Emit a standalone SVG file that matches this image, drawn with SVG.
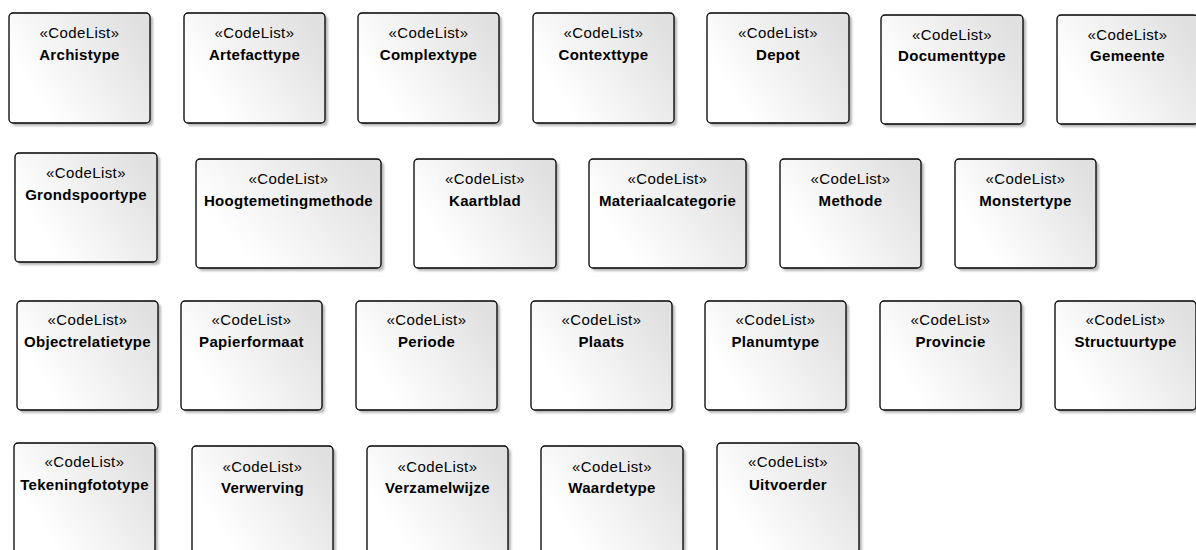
<svg xmlns="http://www.w3.org/2000/svg" width="1196" height="550" viewBox="0 0 1196 550">
<defs>
  <linearGradient id="fillGrad" x1="0" y1="0.75" x2="1" y2="0.25">
    <stop offset="0.15" stop-color="#ffffff"/>
    <stop offset="1" stop-color="#e0e0e0"/>
  </linearGradient>
  <filter id="blur" x="-10%" y="-10%" width="120%" height="120%">
    <feGaussianBlur stdDeviation="1.2"/>
  </filter>
</defs>
<style>
  .shadow { fill: #b8b8b8; filter: url(#blur); }
  .box { fill: url(#fillGrad); stroke: #000000; stroke-width: 1.3; }
  .st { font-family: "Liberation Sans", Arial, sans-serif; font-size: 15px; letter-spacing: 0.4px; text-anchor: middle; fill: #000000; }
  .nm { font-family: "Liberation Sans", Arial, sans-serif; font-size: 15px; font-weight: bold; letter-spacing: 0.3px; text-anchor: middle; fill: #000000; }
</style>
<rect x="0" y="0" width="1196" height="550" fill="#ffffff"/>
<g id="connectors"></g>

<!-- Row 1 -->
<g id="Archistype"><rect class="shadow" x="12" y="16" width="141" height="110" rx="4"/><rect class="box" x="9" y="13" width="141" height="110" rx="4"/><text class="st" x="79.5" y="38">«CodeList»</text><text class="nm" x="79.5" y="59.5">Archistype</text></g>
<g id="Artefacttype"><rect class="shadow" x="187" y="16" width="141" height="110" rx="4"/><rect class="box" x="184" y="13" width="141" height="110" rx="4"/><text class="st" x="254.5" y="38">«CodeList»</text><text class="nm" x="254.5" y="59.5">Artefacttype</text></g>
<g id="Complextype"><rect class="shadow" x="361" y="16" width="141" height="110" rx="4"/><rect class="box" x="358" y="13" width="141" height="110" rx="4"/><text class="st" x="428.5" y="38">«CodeList»</text><text class="nm" x="428.5" y="59.5">Complextype</text></g>
<g id="Contexttype"><rect class="shadow" x="536" y="16" width="141" height="110" rx="4"/><rect class="box" x="533" y="13" width="141" height="110" rx="4"/><text class="st" x="603.5" y="38">«CodeList»</text><text class="nm" x="603.5" y="59.5">Contexttype</text></g>
<g id="Depot"><rect class="shadow" x="710" y="16" width="142" height="110" rx="4"/><rect class="box" x="707" y="13" width="142" height="110" rx="4"/><text class="st" x="778" y="38">«CodeList»</text><text class="nm" x="778" y="59.5">Depot</text></g>
<g id="Documenttype"><rect class="shadow" x="884" y="18" width="142" height="109" rx="4"/><rect class="box" x="881" y="15" width="142" height="109" rx="4"/><text class="st" x="952" y="40">«CodeList»</text><text class="nm" x="952" y="61">Documenttype</text></g>
<g id="Gemeente"><rect class="shadow" x="1060" y="18" width="141" height="109" rx="4"/><rect class="box" x="1057" y="15" width="141" height="109" rx="4"/><text class="st" x="1127.5" y="40">«CodeList»</text><text class="nm" x="1127.5" y="61">Gemeente</text></g>

<!-- Row 2 -->
<g id="Grondspoortype"><rect class="shadow" x="18" y="156" width="142" height="109" rx="4"/><rect class="box" x="15" y="153" width="142" height="109" rx="4"/><text class="st" x="86" y="178">«CodeList»</text><text class="nm" x="86" y="199.5">Grondspoortype</text></g>
<g id="Hoogtemetingmethode"><rect class="shadow" x="199" y="162" width="185" height="109" rx="4"/><rect class="box" x="196" y="159" width="185" height="109" rx="4"/><text class="st" x="288.5" y="184">«CodeList»</text><text class="nm" x="288.5" y="205.5">Hoogtemetingmethode</text></g>
<g id="Kaartblad"><rect class="shadow" x="417" y="162" width="142" height="109" rx="4"/><rect class="box" x="414" y="159" width="142" height="109" rx="4"/><text class="st" x="485" y="184">«CodeList»</text><text class="nm" x="485" y="205.5">Kaartblad</text></g>
<g id="Materiaalcategorie"><rect class="shadow" x="592" y="162" width="157" height="109" rx="4"/><rect class="box" x="589" y="159" width="157" height="109" rx="4"/><text class="st" x="667.5" y="184">«CodeList»</text><text class="nm" x="667.5" y="205.5">Materiaalcategorie</text></g>
<g id="Methode"><rect class="shadow" x="783" y="162" width="141" height="109" rx="4"/><rect class="box" x="780" y="159" width="141" height="109" rx="4"/><text class="st" x="850.5" y="184">«CodeList»</text><text class="nm" x="850.5" y="205.5">Methode</text></g>
<g id="Monstertype"><rect class="shadow" x="958" y="162" width="141" height="109" rx="4"/><rect class="box" x="955" y="159" width="141" height="109" rx="4"/><text class="st" x="1025.5" y="184">«CodeList»</text><text class="nm" x="1025.5" y="205.5">Monstertype</text></g>

<!-- Row 3 -->
<g id="Objectrelatietype"><rect class="shadow" x="20" y="304" width="141" height="109" rx="4"/><rect class="box" x="17" y="301" width="141" height="109" rx="4"/><text class="st" x="87.5" y="325">«CodeList»</text><text class="nm" x="87.5" y="347">Objectrelatietype</text></g>
<g id="Papierformaat"><rect class="shadow" x="184" y="304" width="141" height="109" rx="4"/><rect class="box" x="181" y="301" width="141" height="109" rx="4"/><text class="st" x="251.5" y="325">«CodeList»</text><text class="nm" x="251.5" y="347">Papierformaat</text></g>
<g id="Periode"><rect class="shadow" x="359" y="304" width="141" height="109" rx="4"/><rect class="box" x="356" y="301" width="141" height="109" rx="4"/><text class="st" x="426.5" y="325">«CodeList»</text><text class="nm" x="426.5" y="347">Periode</text></g>
<g id="Plaats"><rect class="shadow" x="534" y="304" width="141" height="109" rx="4"/><rect class="box" x="531" y="301" width="141" height="109" rx="4"/><text class="st" x="601.5" y="325">«CodeList»</text><text class="nm" x="601.5" y="347">Plaats</text></g>
<g id="Planumtype"><rect class="shadow" x="708" y="304" width="141" height="109" rx="4"/><rect class="box" x="705" y="301" width="141" height="109" rx="4"/><text class="st" x="775.5" y="325">«CodeList»</text><text class="nm" x="775.5" y="347">Planumtype</text></g>
<g id="Provincie"><rect class="shadow" x="883" y="304" width="141" height="109" rx="4"/><rect class="box" x="880" y="301" width="141" height="109" rx="4"/><text class="st" x="950.5" y="325">«CodeList»</text><text class="nm" x="950.5" y="347">Provincie</text></g>
<g id="Structuurtype"><rect class="shadow" x="1058" y="304" width="141" height="109" rx="4"/><rect class="box" x="1055" y="301" width="141" height="109" rx="4"/><text class="st" x="1125.5" y="325">«CodeList»</text><text class="nm" x="1125.5" y="347">Structuurtype</text></g>

<!-- Row 4 -->
<g id="Tekeningfototype"><rect class="shadow" x="17" y="446" width="141" height="110" rx="4"/><rect class="box" x="14" y="443" width="141" height="110" rx="4"/><text class="st" x="84.5" y="467">«CodeList»</text><text class="nm" x="84.5" y="489.5">Tekeningfototype</text></g>
<g id="Verwerving"><rect class="shadow" x="195" y="449" width="141" height="110" rx="4"/><rect class="box" x="192" y="446" width="141" height="110" rx="4"/><text class="st" x="262.5" y="471.5">«CodeList»</text><text class="nm" x="262.5" y="493">Verwerving</text></g>
<g id="Verzamelwijze"><rect class="shadow" x="370" y="449" width="141" height="110" rx="4"/><rect class="box" x="367" y="446" width="141" height="110" rx="4"/><text class="st" x="437.5" y="471.5">«CodeList»</text><text class="nm" x="437.5" y="493">Verzamelwijze</text></g>
<g id="Waardetype"><rect class="shadow" x="544" y="449" width="142" height="110" rx="4"/><rect class="box" x="541" y="446" width="142" height="110" rx="4"/><text class="st" x="612" y="471.5">«CodeList»</text><text class="nm" x="612" y="493">Waardetype</text></g>
<g id="Uitvoerder"><rect class="shadow" x="720" y="446" width="142" height="110" rx="4"/><rect class="box" x="717" y="443" width="142" height="110" rx="4"/><text class="st" x="788" y="467">«CodeList»</text><text class="nm" x="788" y="489.5">Uitvoerder</text></g>
</svg>
